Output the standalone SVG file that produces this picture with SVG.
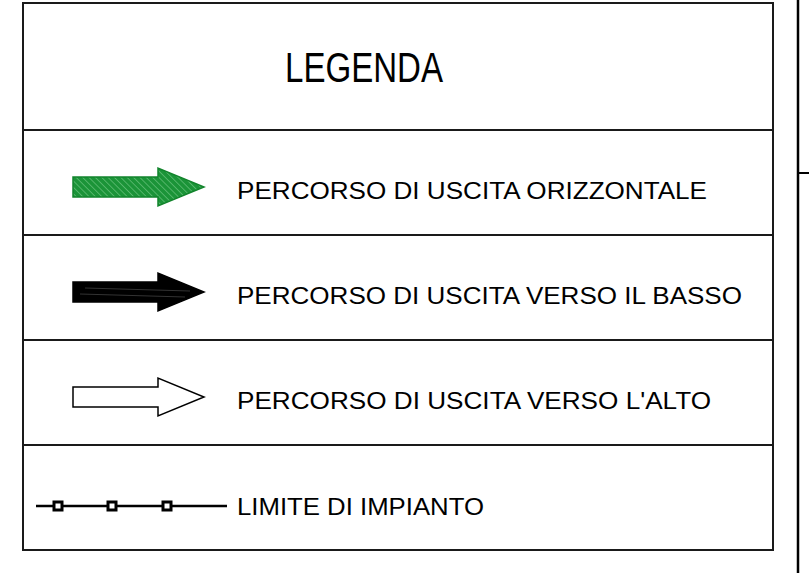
<svg xmlns="http://www.w3.org/2000/svg" width="809" height="573" viewBox="0 0 809 573">
<defs>
<style>
.frame{fill:none;stroke:#1a1a1a;stroke-width:2}
.sep{stroke:#1a1a1a;stroke-width:2}
.lbl{font-family:"Liberation Sans",Arial,sans-serif;font-size:23px;fill:#000}
.arr{stroke-width:1.5;stroke-linejoin:miter}
</style>
<pattern id="hatch" patternUnits="userSpaceOnUse" width="4.5" height="4.5" patternTransform="rotate(-45)">
<rect width="4.5" height="4.5" fill="#1b9438"/>
<line x1="0" y1="0" x2="0" y2="4.5" stroke="#74c986" stroke-width="1.2"/>
</pattern>
</defs>
<rect class="frame" x="23" y="3" width="750" height="547"/>
<line class="sep" x1="23" y1="130" x2="773" y2="130"/>
<line class="sep" x1="23" y1="235" x2="773" y2="235"/>
<line class="sep" x1="23" y1="340" x2="773" y2="340"/>
<line class="sep" x1="23" y1="445" x2="773" y2="445"/>
<line x1="798" y1="0" x2="798" y2="573" stroke="#000" stroke-width="2.5"/>
<line x1="798" y1="173" x2="809" y2="173" stroke="#000" stroke-width="2"/>
<g id="title"><text class="lbl" x="285" y="82" style="font-size:42px" textLength="158" lengthAdjust="spacingAndGlyphs">LEGENDA</text></g>
<g id="row-horizontal">
<polygon class="arr" fill="url(#hatch)" stroke="#12842c" points="73,177 158,177 158,168 204,187 158,206 158,197 73,197"/>
<text class="lbl" x="237" y="199" textLength="470" lengthAdjust="spacingAndGlyphs">PERCORSO DI USCITA ORIZZONTALE</text>
</g>
<g id="row-down">
<polygon class="arr" fill="#000" stroke="#000" points="73,282 158,282 158,273 204,292 158,311 158,302 73,302"/>
<line x1="85" y1="288" x2="190" y2="291" stroke="#555" stroke-width="0.6"/>
<line x1="80" y1="294" x2="185" y2="297" stroke="#555" stroke-width="0.6"/>
<text class="lbl" x="237" y="304" textLength="505" lengthAdjust="spacingAndGlyphs">PERCORSO DI USCITA VERSO IL BASSO</text>
</g>
<g id="row-up">
<polygon class="arr" fill="#fff" stroke="#000" points="73,387 158,387 158,378 204,397 158,416 158,407 73,407"/>
<text class="lbl" x="237" y="409" textLength="474" lengthAdjust="spacingAndGlyphs">PERCORSO DI USCITA VERSO L'ALTO</text>
</g>
<g id="row-limit">
<line x1="36" y1="506" x2="227" y2="506" stroke="#000" stroke-width="2.5"/>
<rect x="54" y="502" width="8" height="8" fill="#fff" stroke="#000" stroke-width="3"/>
<rect x="108" y="502" width="8" height="8" fill="#fff" stroke="#000" stroke-width="3"/>
<rect x="163" y="502" width="8" height="8" fill="#fff" stroke="#000" stroke-width="3"/>
<text class="lbl" x="237" y="515" textLength="247" lengthAdjust="spacingAndGlyphs">LIMITE DI IMPIANTO</text>
</g>
</svg>
